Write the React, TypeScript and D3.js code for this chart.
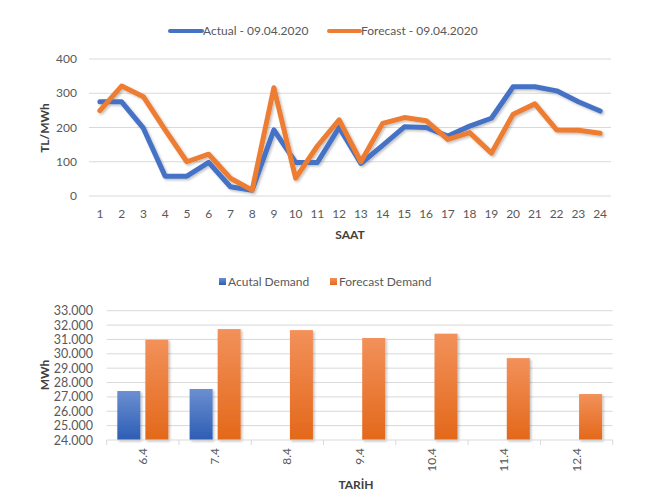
import React from "react";
import * as d3 from "d3";

const hours = d3.range(1, 25).map(String);
const actualPrice = [275, 275, 198, 58, 58, 98, 27, 17, 193, 98, 98, 200, 95, 148, 202, 200, 175, 204, 227, 319, 319, 307, 275, 248];
const forecastPrice = [249, 321, 290, 193, 100, 122, 52, 17, 316, 52, 146, 222, 100, 212, 229, 220, 165, 185, 125, 239, 269, 193, 192, 183];
const priceTicks = [0, 100, 200, 300, 400];

const dates = ["6.4", "7.4", "8.4", "9.4", "10.4", "11.4", "12.4"];
const actualDemand: (number | null)[] = [27410, 27550, null, null, null, null, null];
const forecastDemand = [30980, 31720, 31650, 31100, 31400, 29700, 27200];
const demandTicks = d3.range(24000, 33001, 1000);

const FONT = "Lato, 'Open Sans', sans-serif";
const TICK = "#595959";
const TITLE = "#404040";
const GRID = "#d9d9d9";
const BLUE = "#4472C4";
const ORANGE = "#ED7D31";

export default function App() {
  // top chart scales
  const x1 = d3.scalePoint<string>().domain(hours).range([89, 611]).padding(0.5);
  const y1 = d3.scaleLinear().domain([0, 400]).range([196, 59]);
  const line = d3
    .line<number>()
    .x((_, i) => x1(hours[i]) as number)
    .y((d) => y1(d));

  // bottom chart scales
  const x2 = d3.scaleBand<string>().domain(dates).range([106.7, 612.7]);
  const bw = x2.bandwidth();
  const sub = d3
    .scaleBand<string>()
    .domain(["a", "f"])
    .range([bw * 0.147, bw * 0.853])
    .paddingInner(0.18);
  const y2 = d3.scaleLinear().domain([24000, 33000]).range([440, 310.7]);
  const fmt = (v: number) => d3.format(",")(v).replace(/,/g, ".");

  return (
    <svg
      width={671}
      height={499}
      style={{ position: "absolute", left: 0, top: 0, background: "#fff", fontFamily: FONT }}
    >
      <defs>
        <linearGradient id="gBlue" x1="0" y1="0" x2="0" y2="1">
          <stop offset="0" stopColor="#6b8fd1" />
          <stop offset="1" stopColor="#2d5db4" />
        </linearGradient>
        <linearGradient id="gOrange" x1="0" y1="0" x2="0" y2="1">
          <stop offset="0" stopColor="#f2915a" />
          <stop offset="1" stopColor="#e3681a" />
        </linearGradient>
        <filter id="shadow" x="-20%" y="-20%" width="140%" height="140%">
          <feDropShadow dx="1.5" dy="1.5" stdDeviation="1.2" floodColor="#000" floodOpacity="0.25" />
        </filter>
      </defs>
      <rect width={671} height={499} fill="#fff" />

      {/* ---------- Top chart ---------- */}
      <g>
        {/* legend */}
        <line x1={170} x2={202} y1={31} y2={31} stroke={BLUE} strokeWidth={4} strokeLinecap="round" />
        <text x={203} y={35} fontSize={12} fill={TICK}>Actual - 09.04.2020</text>
        <line x1={329} x2={360} y1={31} y2={31} stroke={ORANGE} strokeWidth={4} strokeLinecap="round" />
        <text x={361} y={35} fontSize={12} fill={TICK}>Forecast - 09.04.2020</text>

        {priceTicks.map((t) => (
          <g key={t}>
            <line x1={89} x2={611} y1={y1(t)} y2={y1(t)} stroke={GRID} strokeWidth={1} />
            <text x={77} y={y1(t) + 4} fontSize={12} fill={TICK} textAnchor="end">
              {t}
            </text>
          </g>
        ))}
        {hours.map((h) => (
          <text key={h} x={x1(h)} y={218} fontSize={12} fill={TICK} textAnchor="middle">
            {h}
          </text>
        ))}
        <text
          transform={`translate(49,128) rotate(-90)`}
          fontSize={12}
          fontWeight="bold"
          fill={TITLE}
          textAnchor="middle"
        >
          TL/MWh
        </text>
        <text x={350} y={239} fontSize={12} fontWeight="bold" fill={TITLE} textAnchor="middle">
          SAAT
        </text>
        <g filter="url(#shadow)">
          <path d={line(actualPrice) || ""} fill="none" stroke={BLUE} strokeWidth={5} strokeLinejoin="round" strokeLinecap="round" />
          <path d={line(forecastPrice) || ""} fill="none" stroke={ORANGE} strokeWidth={5} strokeLinejoin="round" strokeLinecap="round" />
        </g>
      </g>

      {/* ---------- Bottom chart ---------- */}
      <g>
        {/* legend */}
        <rect x={219} y={278} width={7} height={7} fill="url(#gBlue)" />
        <text x={228} y={286} fontSize={12} fill={TICK}>Acutal Demand</text>
        <rect x={330} y={278} width={7} height={7} fill="url(#gOrange)" />
        <text x={339} y={286} fontSize={12} fill={TICK}>Forecast Demand</text>

        {demandTicks.map((t) => (
          <g key={t}>
            {t > 24000 && (
              <line x1={106.7} x2={612.7} y1={y2(t)} y2={y2(t)} stroke={GRID} strokeWidth={1} />
            )}
            <text x={93} y={y2(t) + 4.5} fontSize={12.5} fill={TICK} textAnchor="end">
              {fmt(t)}
            </text>
          </g>
        ))}

        {dates.map((d, i) => {
          const x0 = x2(d) as number;
          const a = actualDemand[i];
          const f = forecastDemand[i];
          return (
            <g key={d} filter="url(#shadow)">
              {a != null && (
                <rect
                  x={x0 + (sub("a") as number)}
                  y={y2(a)}
                  width={sub.bandwidth()}
                  height={y2(24000) - y2(a)}
                  fill="url(#gBlue)"
                />
              )}
              <rect
                x={x0 + (sub("f") as number)}
                y={y2(f)}
                width={sub.bandwidth()}
                height={y2(24000) - y2(f)}
                fill="url(#gOrange)"
              />
            </g>
          );
        })}

        {/* axis */}
        <line x1={106.7} x2={612.7} y1={440} y2={440} stroke={GRID} strokeWidth={1} />
        {d3.range(dates.length + 1).map((i) => {
          const xx = 106.7 + i * bw;
          return <line key={i} x1={xx} x2={xx} y1={440} y2={445} stroke={GRID} strokeWidth={1} />;
        })}
        {dates.map((d) => (
          <text
            key={d}
            transform={`translate(${(x2(d) as number) + bw / 2 + 4},448) rotate(-90)`}
            fontSize={12}
            fill={TICK}
            textAnchor="end"
          >
            {d}
          </text>
        ))}
        <text
          transform={`translate(49,375) rotate(-90)`}
          fontSize={12}
          fontWeight="bold"
          fill={TITLE}
          textAnchor="middle"
        >
          MWh
        </text>
        <text x={356} y={489} fontSize={12} fontWeight="bold" fill={TITLE} textAnchor="middle">
          TARİH
        </text>
      </g>
    </svg>
  );
}
